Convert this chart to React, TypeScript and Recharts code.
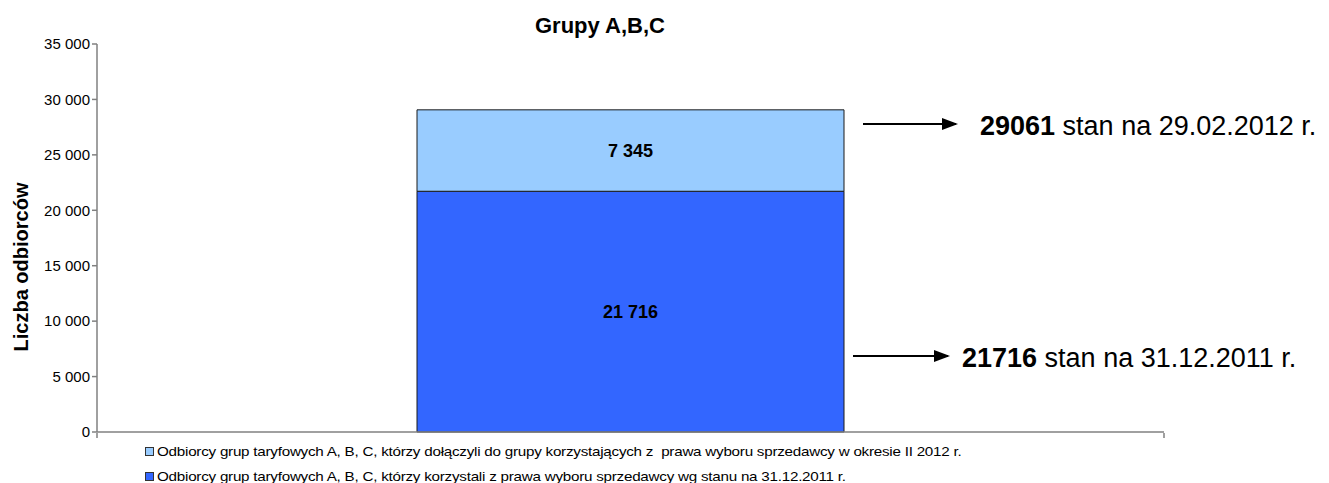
import React from 'react';
import { BarChart, Bar, XAxis, YAxis, LabelList } from 'recharts';

const categories = ['Grupy A,B,C'];
const base2011 = [21716];
const joined2012 = [7345];
const yTicks = [0, 5000, 10000, 15000, 20000, 25000, 30000, 35000];
const annotations = [
  { value: '29061', text: ' stan na 29.02.2012 r.' },
  { value: '21716', text: ' stan na 31.12.2011 r.' },
];
const legendItems = [
  { name: 'Odbiorcy grup taryfowych A, B, C, którzy dołączyli do grupy korzystających z  prawa wyboru sprzedawcy w okresie II 2012 r.', color: '#99CCFF' },
  { name: 'Odbiorcy grup taryfowych A, B, C, którzy korzystali z prawa wyboru sprzedawcy wg stanu na 31.12.2011 r.', color: '#3366FF' },
];

const FONT = 'Arial, "Liberation Sans", sans-serif';
const fmt = (v: number) => String(v).replace(/\B(?=(\d{3})+(?!\d))/g, ' ');

const data = categories.map((name, i) => ({
  name,
  base: base2011[i],
  joined: joined2012[i],
}));

const App: React.FC = () => {
  return (
    <div style={{ position: 'absolute', left: 0, top: 0, width: 1329, height: 483, background: '#fff', fontFamily: FONT }}>
      <BarChart
        width={1329}
        height={483}
        data={data}
        margin={{ top: 44, right: 165, bottom: 50, left: 40 }}
      >
        <XAxis
          dataKey="name"
          tick={false}
          tickLine={false}
          height={1}
          axisLine={{ stroke: '#808080', strokeWidth: 1.5 }}
        />
        <YAxis
          width={57}
          domain={[0, 35000]}
          ticks={yTicks}
          interval={0}
          tickFormatter={fmt}
          tickSize={5}
          tick={{ fill: '#000', fontSize: 15, fontFamily: FONT }}
          axisLine={{ stroke: '#808080', strokeWidth: 1.5 }}
          tickLine={{ stroke: '#808080', strokeWidth: 1.5 }}
          label={{
            content: () => (
              <text
                x={21}
                y={267}
                transform="rotate(-90 21 267)"
                textAnchor="middle"
                dominantBaseline="central"
                fontSize={20}
                fontWeight="bold"
                fontFamily={FONT}
                fill="#000"
              >
                Liczba odbiorców
              </text>
            ),
          }}
        />
        <Bar dataKey="base" stackId="a" fill="#3366FF" stroke="#1a1a1a" strokeWidth={1} barSize={427} isAnimationActive={false}>
          <LabelList dataKey="base" position="center" formatter={(v: any) => fmt(Number(v))} fill="#000" fontSize={18} fontWeight="bold" fontFamily={FONT} />
        </Bar>
        <Bar dataKey="joined" stackId="a" fill="#99CCFF" stroke="#1a1a1a" strokeWidth={1} barSize={427} isAnimationActive={false}>
          <LabelList dataKey="joined" position="center" formatter={(v: any) => fmt(Number(v))} fill="#000" fontSize={18} fontWeight="bold" fontFamily={FONT} />
        </Bar>
      </BarChart>

      {/* title, arrows with notes, legend */}
      <svg width={1329} height={483} style={{ position: 'absolute', left: 0, top: 0, pointerEvents: 'none' }}>
        <defs>
          <marker id="arr" markerWidth="8" markerHeight="6" refX="7" refY="3" orient="auto" markerUnits="strokeWidth">
            <path d="M0,0 L8,3 L0,6 Z" fill="#000" />
          </marker>
        </defs>
        <text x={600} y={33} textAnchor="middle" fontSize={22} fontWeight="bold" fontFamily={FONT} fill="#000">
          {categories[0]}
        </text>
        {/* end ticks of the category axis */}
        <line x1={97} y1={433} x2={97} y2={438} stroke="#808080" strokeWidth={1.5} />
        <line x1={1164} y1={433} x2={1164} y2={438} stroke="#808080" strokeWidth={1.5} />
        <line x1={863} y1={124} x2={956} y2={124} stroke="#000" strokeWidth={2} markerEnd="url(#arr)" />
        <text x={980} y={135} fontSize={27} fontFamily={FONT} fill="#000">
          <tspan fontWeight="bold">{annotations[0].value}</tspan>
          <tspan>{annotations[0].text}</tspan>
        </text>
        <line x1={853} y1={356} x2={948} y2={356} stroke="#000" strokeWidth={2} markerEnd="url(#arr)" />
        <text x={962} y={367} fontSize={27} fontFamily={FONT} fill="#000">
          <tspan fontWeight="bold">{annotations[1].value}</tspan>
          <tspan>{annotations[1].text}</tspan>
        </text>

        {legendItems.map((it, i) => {
          const base = 456 + i * 25;
          return (
            <g key={it.name}>
              <rect x={145.5} y={base - 8.5} width={8} height={8} fill={it.color} stroke="#333" strokeWidth={1} />
              <g transform={`translate(157 ${base}) scale(1.17 1)`}>
                <text x={0} y={0} fontSize={13} letterSpacing={-0.2} fontFamily={FONT} fill="#000" style={{ whiteSpace: 'pre' }}>
                  {it.name}
                </text>
              </g>
            </g>
          );
        })}
      </svg>
    </div>
  );
};

export default App;
